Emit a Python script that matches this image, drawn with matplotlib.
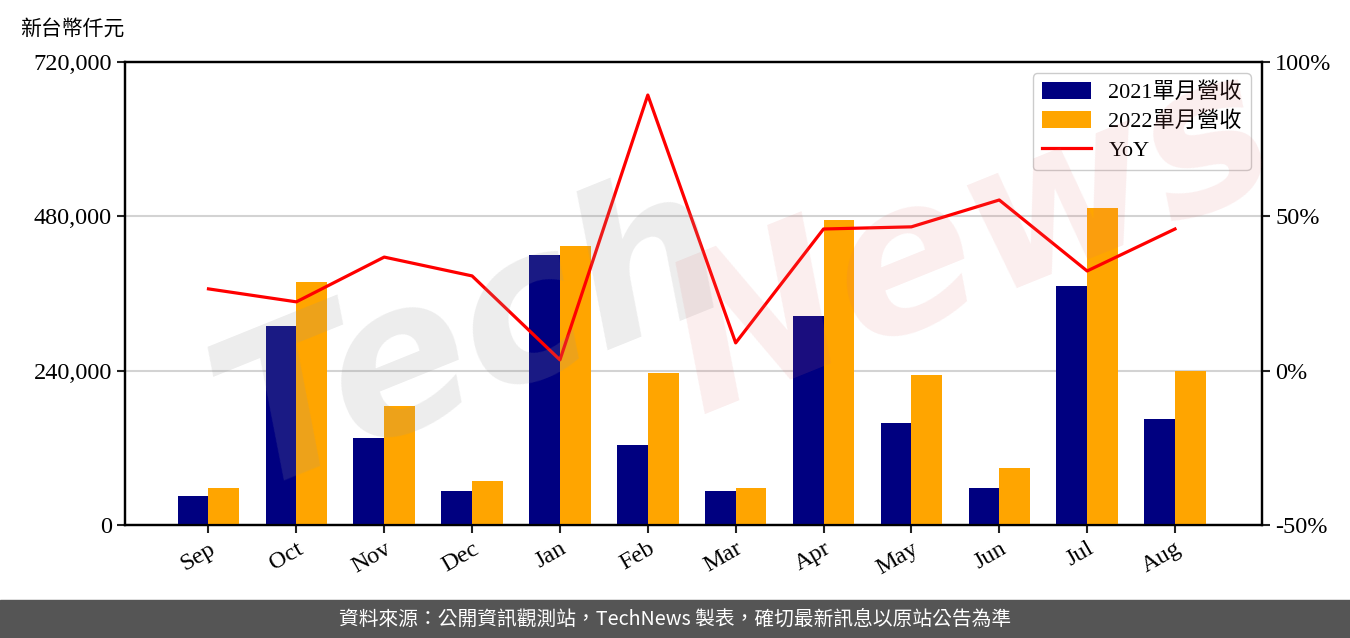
import numpy as np
import matplotlib
matplotlib.use('Agg')
import matplotlib.pyplot as plt
from matplotlib.ticker import FuncFormatter, FixedLocator

plt.rcParams['font.family'] = ['Liberation Serif', 'Noto Sans CJK TC']

# Monthly revenue (NT$ thousand) and YoY growth
months = ['Sep', 'Oct', 'Nov', 'Dec', 'Jan', 'Feb', 'Mar', 'Apr', 'May', 'Jun', 'Jul', 'Aug']
rev_2021 = [45100, 309400, 135300, 52900, 419900, 124400, 52900, 325000, 158600, 57500, 371700, 164800]
rev_2022 = [57500, 377900, 185000, 68400, 433900, 236400, 57500, 474300, 233300, 88600, 493000, 239500]
yoy = [26.5, 22.3, 36.8, 30.7, 3.5, 89.3, 9.0, 45.9, 46.6, 55.3, 32.3, 45.9]

left_ticks = [0, 240000, 480000, 720000]
right_ticks = [-50, 0, 50, 100]

fig = plt.figure(figsize=(13.5, 6.38), dpi=100)
ax = fig.add_axes([0.0926, 0.1771, 0.8422, 0.7257])
ax2 = ax.twinx()

x = np.arange(len(months))
w = 0.35
ax.bar(x - w / 2, rev_2021, w, color='#000080', label='2021單月營收', zorder=3)
ax.bar(x + w / 2, rev_2022, w, color='#FFA500', label='2022單月營收', zorder=3)
line, = ax2.plot(x, yoy, color='red', linewidth=2.3, label='YoY', zorder=4)

ax.set_xlim(-0.95, 11.99)
ax.set_ylim(0, 720000)
ax.yaxis.set_major_locator(FixedLocator(left_ticks))
ax.yaxis.set_major_formatter(FuncFormatter(lambda v, p: f'{int(v):,}'))
ax.grid(axis='y', color='#d3d3d3', linewidth=1.5, zorder=0)
ax.set_axisbelow(True)

ax2.set_ylim(-50, 100)
ax2.yaxis.set_major_locator(FixedLocator(right_ticks))
ax2.yaxis.set_major_formatter(FuncFormatter(lambda v, p: f'{int(v)}%'))

ax.set_xticks(x)
ax.set_xticklabels(months, rotation=30, ha='right', rotation_mode='anchor')
ax.tick_params(axis='both', labelsize=17.5, width=1.5, length=6, colors='#222222', labelcolor='black')
ax2.tick_params(axis='y', labelsize=17.5, width=1.5, length=6, colors='#222222', labelcolor='black')
for a in (ax, ax2):
    for s in a.spines.values():
        s.set_linewidth(1.6)

handles = ax.get_legend_handles_labels()[0] + [line]
labels = ['2021單月營收', '2022單月營收', 'YoY']
leg = ax2.legend(handles, labels, loc='upper right', fontsize=16, framealpha=1,
                 edgecolor='#cccccc', handlelength=2.2, handleheight=0.8,
                 borderpad=0.4, labelspacing=0.35)

fig.text(0.015, 0.955, '新台幣仟元', fontsize=15, family=['Noto Sans CJK TC'], va='center')

# watermark
fig.text(0.35, 0.47, 'Tech', fontsize=150, color='#999999', alpha=0.18, rotation=22,
         ha='center', va='center', family='DejaVu Sans', style='italic', weight='bold', zorder=10)
fig.text(0.72, 0.62, 'News', fontsize=150, color='#e07070', alpha=0.12, rotation=22,
         ha='center', va='center', family='DejaVu Sans', style='italic', weight='bold', zorder=10)

# footer band
fig.patches.append(plt.Rectangle((0, 0), 1, 38 / 638, transform=fig.transFigure,
                                 color='#555555', zorder=0))
fig.text(0.5, 19 / 638, '資料來源：公開資訊觀測站，TechNews 製表，確切最新訊息以原站公告為準',
         color='white', fontsize=14.2, ha='center', va='center', family=['Noto Sans CJK TC'])

fig.savefig('out.png', dpi=100)
